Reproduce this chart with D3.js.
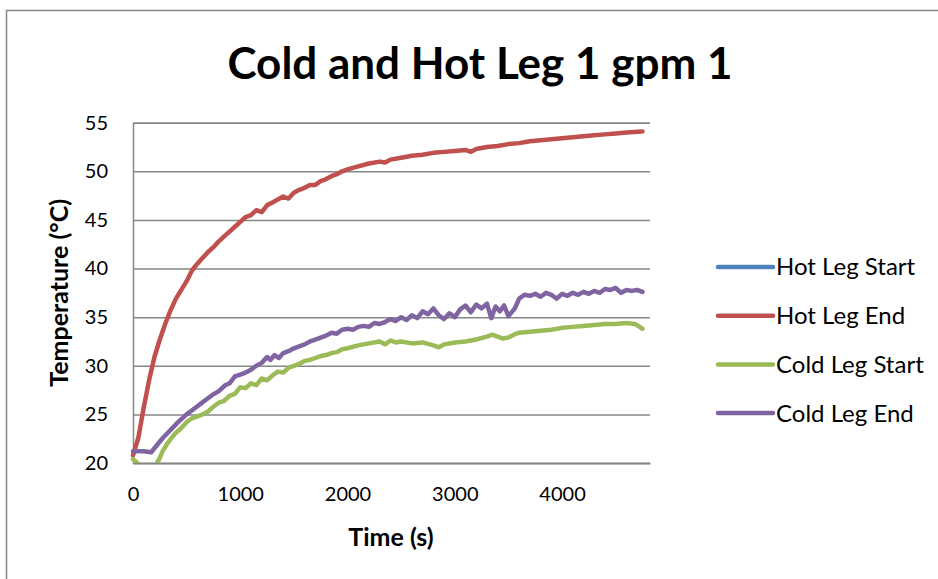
<!DOCTYPE html>
<html>
<head>
<meta charset="utf-8">
<script src="https://cdn.jsdelivr.net/npm/d3@7"></script>
<style>
  body { margin: 0; background: #fff; }
  text { font-family: Lato, "Liberation Sans", sans-serif; fill: #000; }
</style>
</head>
<body>
<svg id="chart" width="938" height="579"></svg>
<script>
// values: [time (s), temperature (°C)]
const title = "Cold and Hot Leg 1 gpm 1"
const xTicks = [0, 1000, 2000, 3000, 4000]
const yTicks = [20, 25, 30, 35, 40, 45, 50, 55]
const seriesNames = ["Hot Leg Start", "Hot Leg End", "Cold Leg Start", "Cold Leg End"]
const seriesColors = ["#4F81BD", "#C0504D", "#9BBB59", "#8064A2"]

// hot leg start is in the legend but nothing of it shows in the plot
const hotLegStart = []

const hotLegEnd = [
  [0, 20.8], [50, 22.6], [100, 25.7], [150, 28.5], [200, 30.9], [250, 32.7], [300, 34.3],
  [350, 35.7], [400, 36.9], [450, 37.8], [500, 38.7], [550, 39.8], [600, 40.5], [650, 41.1],
  [700, 41.7], [750, 42.2], [800, 42.8], [850, 43.3], [900, 43.8], [950, 44.3], [1000, 44.8],
  [1050, 45.3], [1100, 45.5], [1150, 46.0], [1200, 45.8], [1250, 46.5], [1300, 46.8],
  [1350, 47.1], [1400, 47.4], [1450, 47.2], [1500, 47.8], [1550, 48.1], [1600, 48.3],
  [1650, 48.6], [1700, 48.6], [1750, 49.0], [1800, 49.2], [1850, 49.5], [1900, 49.7],
  [1950, 50.0], [2000, 50.2], [2100, 50.5], [2200, 50.8], [2300, 51.0], [2350, 50.9],
  [2400, 51.2], [2500, 51.4], [2600, 51.6], [2700, 51.7], [2800, 51.9], [2900, 52.0],
  [3000, 52.1], [3100, 52.2], [3150, 52.0], [3200, 52.3], [3300, 52.5], [3400, 52.6],
  [3500, 52.8], [3600, 52.9], [3700, 53.1], [3800, 53.2], [3900, 53.3], [4000, 53.4],
  [4100, 53.5], [4200, 53.6], [4300, 53.7], [4400, 53.8], [4500, 53.9], [4600, 54.0], [4750, 54.1]
]

const coldLegStart = [
  [0, 20.4], [40, 20.0], [100, 19.4], [160, 19.3], [210, 19.8], [240, 20.3], [280, 21.3],
  [320, 22.0], [360, 22.6], [400, 23.1], [450, 23.6], [500, 24.2], [550, 24.6], [600, 24.8],
  [650, 25.0], [700, 25.3], [750, 25.8], [800, 26.2], [850, 26.4], [900, 26.9], [950, 27.1],
  [1000, 27.8], [1050, 27.7], [1100, 28.2], [1150, 28.0], [1200, 28.7], [1250, 28.5],
  [1300, 29.0], [1350, 29.4], [1400, 29.3], [1450, 29.8], [1500, 30.0], [1550, 30.2],
  [1600, 30.5], [1650, 30.6], [1700, 30.8], [1750, 31.0], [1800, 31.1], [1850, 31.3],
  [1900, 31.4], [1950, 31.7], [2000, 31.8], [2100, 32.1], [2200, 32.3], [2300, 32.5],
  [2350, 32.2], [2400, 32.6], [2450, 32.4], [2500, 32.5], [2600, 32.3], [2700, 32.4],
  [2800, 32.1], [2850, 31.9], [2900, 32.2], [3000, 32.4], [3100, 32.5], [3200, 32.7],
  [3300, 33.0], [3350, 33.2], [3400, 33.0], [3450, 32.8], [3500, 32.9], [3550, 33.2],
  [3600, 33.4], [3700, 33.5], [3800, 33.6], [3900, 33.7], [4000, 33.9], [4100, 34.0],
  [4200, 34.1], [4300, 34.2], [4400, 34.3], [4500, 34.3], [4600, 34.4], [4680, 34.3], [4750, 33.8]
]

const coldLegEnd = [
  [0, 21.2], [100, 21.2], [170, 21.1], [220, 21.8], [280, 22.6], [350, 23.4], [420, 24.2],
  [500, 25.0], [560, 25.5], [620, 26.0], [680, 26.5], [740, 27.0], [800, 27.4], [860, 28.0],
  [900, 28.2], [950, 28.9], [1000, 29.1], [1050, 29.3], [1100, 29.6], [1150, 30.0],
  [1200, 30.3], [1250, 30.9], [1280, 30.6], [1320, 31.1], [1360, 30.8], [1400, 31.3],
  [1450, 31.5], [1500, 31.8], [1550, 32.0], [1600, 32.2], [1650, 32.5], [1700, 32.7],
  [1750, 32.9], [1800, 33.1], [1850, 33.4], [1900, 33.3], [1950, 33.7], [2000, 33.8],
  [2050, 33.7], [2100, 34.0], [2150, 34.1], [2200, 34.0], [2250, 34.4], [2300, 34.3],
  [2350, 34.5], [2400, 34.8], [2450, 34.6], [2500, 35.0], [2550, 34.7], [2600, 35.2],
  [2650, 34.9], [2700, 35.6], [2750, 35.3], [2800, 35.9], [2850, 35.2], [2900, 34.8],
  [2950, 35.4], [3000, 35.0], [3050, 35.8], [3100, 36.2], [3150, 35.5], [3200, 36.3],
  [3250, 35.9], [3300, 36.4], [3340, 34.9], [3380, 36.1], [3420, 35.6], [3460, 36.2],
  [3500, 35.1], [3560, 35.9], [3600, 36.9], [3650, 37.3], [3700, 37.2], [3750, 37.4],
  [3800, 37.1], [3850, 37.5], [3900, 37.3], [3950, 36.9], [4000, 37.4], [4050, 37.2],
  [4100, 37.5], [4150, 37.3], [4200, 37.6], [4250, 37.4], [4300, 37.7], [4350, 37.5],
  [4400, 37.9], [4450, 37.8], [4500, 38.0], [4550, 37.5], [4600, 37.8], [4650, 37.7],
  [4700, 37.8], [4750, 37.6]
]

const seriesData = [hotLegStart, hotLegEnd, coldLegStart, coldLegEnd]

function render() {
  const width = 938, height = 579
  const margin = {top: 122.7, right: 288, bottom: 116, left: 133}
  const svg = d3.select("#chart")
  const grey = "#868686"

  // outer chart frame, runs off the bottom and right of the picture
  svg.append("rect")
    .attr("x", 6.5).attr("y", 10.5)
    .attr("width", 1200).attr("height", 1200)
    .attr("fill", "none").attr("stroke", grey).attr("stroke-width", 1.5)

  let x = d3.scaleLinear()
    .domain([0, 4820])
    .range([margin.left, width - margin.right])

  let y = d3.scaleLinear()
    .domain([20, 55])
    .range([height - margin.bottom, margin.top])

  svg.append("text")
    .attr("x", 480).attr("y", 79)
    .attr("text-anchor", "middle")
    .attr("font-size", 44).attr("font-weight", "bold")
    .text(title)

  // gridlines + y axis
  svg.append("g")
    .attr("transform", `translate(${margin.left},0)`)
    .call(d3.axisLeft(y).tickValues(yTicks).tickSize(-(width - margin.right - margin.left)).tickPadding(25))
    .call(g => g.select(".domain").attr("stroke", grey).attr("stroke-width", 1.5))
    .call(g => g.selectAll(".tick line").attr("stroke", grey).attr("stroke-width", 1.5))
    .call(g => g.selectAll(".tick text").attr("font-size", 20).attr("fill", "#000")
      .style("font-family", "Lato, sans-serif"))

  svg.append("g")
    .attr("transform", `translate(0,${height - margin.bottom})`)
    .call(d3.axisBottom(x).tickValues(xTicks).tickFormat(d3.format("d")).tickSize(0).tickPadding(24))
    .call(g => g.select(".domain").attr("stroke", grey).attr("stroke-width", 1.5))
    .call(g => g.selectAll(".tick text").attr("font-size", 20).attr("fill", "#000")
      .style("font-family", "Lato, sans-serif"))

  svg.append("text")
    .attr("x", 391).attr("y", 546)
    .attr("text-anchor", "middle")
    .attr("font-size", 25).attr("font-weight", "bold")
    .text("Time (s)")

  svg.append("text")
    .attr("transform", `translate(68,${(margin.top + height - margin.bottom) / 2}) rotate(-90)`)
    .attr("text-anchor", "middle")
    .attr("font-size", 25).attr("font-weight", "bold")
    .text("Temperature (°C)")

  svg.append("clipPath").attr("id", "plot")
    .append("rect")
    .attr("x", margin.left - 3).attr("y", margin.top - 10)
    .attr("width", width - margin.right - margin.left + 13)
    .attr("height", height - margin.bottom - margin.top + 10)

  let line = d3.line()
    .x(d => x(d[0]))
    .y(d => y(d[1]))

  svg.append("g")
    .attr("clip-path", "url(#plot)")
    .attr("fill", "none")
    .attr("stroke-width", 4.5)
    .attr("stroke-linejoin", "round")
    .attr("stroke-linecap", "round")
    .selectAll("path")
    .data(seriesData)
    .join("path")
      .attr("stroke", (d, i) => seriesColors[i])
      .attr("d", d => d.length ? line(d) : null)

  const legend = svg.append("g")
    .selectAll("g")
    .data(seriesNames)
    .join("g")
      .attr("transform", (d, i) => `translate(718,${267 + i * 48.7})`)

  legend.append("line")
    .attr("x1", 0).attr("x2", 55)
    .attr("stroke", (d, i) => seriesColors[i])
    .attr("stroke-width", 4.5)
    .attr("stroke-linecap", "round")

  legend.append("text")
    .attr("x", 58).attr("dy", "0.35em")
    .attr("font-size", 24)
    .text(d => d)
}

render()
</script>
</body>
</html>
